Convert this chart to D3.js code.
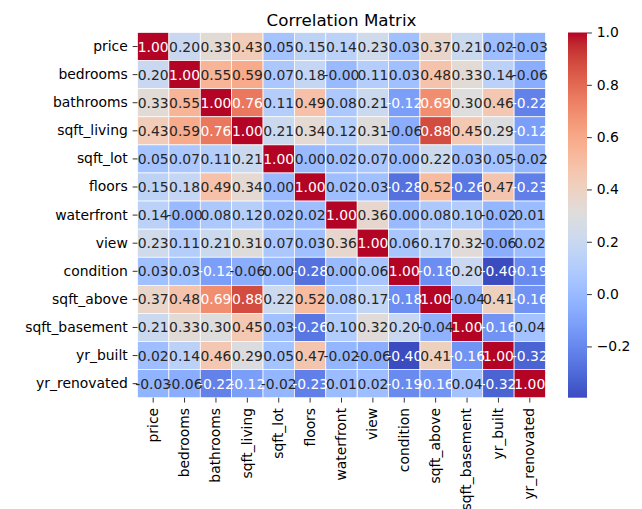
<!DOCTYPE html>
<html>
<head>
<meta charset="utf-8">
<script src="https://cdn.jsdelivr.net/npm/d3@7"></script>
<style>
  body { margin: 0; background: #fff; }
  text { font-family: "DejaVu Sans", sans-serif; }
</style>
</head>
<body>
<div id="chart"></div>
<script>
// variables of the matrix
var labels = ["price", "bedrooms", "bathrooms", "sqft_living", "sqft_lot", "floors",
  "waterfront", "view", "condition", "sqft_above", "sqft_basement", "yr_built", "yr_renovated"];

// correlation values, row by row
var price        = [1.00, 0.20, 0.33, 0.43, 0.05, 0.15, 0.14, 0.23, 0.03, 0.37, 0.21, 0.02, -0.03];
var bedrooms     = [0.20, 1.00, 0.55, 0.59, 0.07, 0.18, -0.00, 0.11, 0.03, 0.48, 0.33, 0.14, -0.06];
var bathrooms    = [0.33, 0.55, 1.00, 0.76, 0.11, 0.49, 0.08, 0.21, -0.12, 0.69, 0.30, 0.46, -0.22];
var sqftLiving   = [0.43, 0.59, 0.76, 1.00, 0.21, 0.34, 0.12, 0.31, -0.06, 0.88, 0.45, 0.29, -0.12];
var sqftLot      = [0.05, 0.07, 0.11, 0.21, 1.00, 0.00, 0.02, 0.07, 0.00, 0.22, 0.03, 0.05, -0.02];
var floors       = [0.15, 0.18, 0.49, 0.34, 0.00, 1.00, 0.02, 0.03, -0.28, 0.52, -0.26, 0.47, -0.23];
var waterfront   = [0.14, -0.00, 0.08, 0.12, 0.02, 0.02, 1.00, 0.36, 0.00, 0.08, 0.10, -0.02, 0.01];
var view         = [0.23, 0.11, 0.21, 0.31, 0.07, 0.03, 0.36, 1.00, 0.06, 0.17, 0.32, -0.06, 0.02];
var condition    = [0.03, 0.03, -0.12, -0.06, 0.00, -0.28, 0.00, 0.06, 1.00, -0.18, 0.20, -0.396, -0.19];
var sqftAbove    = [0.37, 0.48, 0.69, 0.88, 0.22, 0.52, 0.08, 0.17, -0.18, 1.00, -0.04, 0.41, -0.16];
var sqftBasement = [0.21, 0.33, 0.30, 0.45, 0.03, -0.26, 0.10, 0.32, 0.20, -0.04, 1.00, -0.16, 0.04];
var yrBuilt      = [0.02, 0.14, 0.46, 0.29, 0.05, 0.47, -0.02, -0.06, -0.396, 0.41, -0.16, 1.00, -0.32];
var yrRenovated  = [-0.03, -0.06, -0.22, -0.12, -0.02, -0.23, 0.01, 0.02, -0.19, -0.16, 0.04, -0.32, 1.00];

var colorbarTicks = [-0.2, 0.0, 0.2, 0.4, 0.6, 0.8, 1.0];

var matrix = [price, bedrooms, bathrooms, sqftLiving, sqftLot, floors, waterfront,
  view, condition, sqftAbove, sqftBasement, yrBuilt, yrRenovated];

// coolwarm ramp (Moreland)
var coolwarm = ["#3b4cc0","#445acc","#4d68d7","#5775e1","#6282ea","#6c8ef1","#779af7","#82a5fb",
  "#8db0fe","#98b9ff","#a3c2ff","#aec9fd","#b8d0f9","#c2d5f4","#ccd9ee","#d5dbe6","#dddddd",
  "#e5d8d1","#ecd3c5","#f1ccb8","#f5c4ac","#f7bb9f","#f7b193","#f7a786","#f49a7b","#f18d6f",
  "#ec7f63","#e57059","#de604d","#d55043","#cb3e38","#c0282f","#b40426"];

var width = 642, height = 509;
var gLeft = 137.5, gTop = 32.5, gw = 408, gh = 365.2;
var tick = 4.86;

var svg = d3.select("#chart").append("svg")
    .attr("width", width)
    .attr("height", height);

var cells = [];
matrix.forEach(function(row, i) {
  row.forEach(function(v, j) {
    cells.push({row: labels[i], col: labels[j], value: v});
  });
});

var vmin = d3.min(cells, function(d) { return d.value; }),
    vmax = d3.max(cells, function(d) { return d.value; });

var color = d3.scaleLinear()
    .domain(coolwarm.map(function(c, i) { return vmin + (vmax - vmin) * i / (coolwarm.length - 1); }))
    .range(coolwarm)
    .interpolate(d3.interpolateRgb)
    .clamp(true);

var x = d3.scaleBand().domain(labels).range([gLeft, gLeft + gw]);
var y = d3.scaleBand().domain(labels).range([gTop, gTop + gh]);

function luminance(c) {
  var rgb = d3.rgb(c);
  var lin = [rgb.r, rgb.g, rgb.b].map(function(v) {
    v = v / 255;
    return v <= 0.03928 ? v / 12.92 : Math.pow((v + 0.055) / 1.055, 2.4);
  });
  return 0.2126 * lin[0] + 0.7152 * lin[1] + 0.0722 * lin[2];
}

function fmt(v) {
  var neg = v < 0 || Object.is(v, -0);
  return (neg ? "-" : "") + Math.abs(v).toFixed(2);
}

svg.append("text")
    .attr("x", gLeft + gw / 2)
    .attr("y", 25.5)
    .attr("text-anchor", "middle")
    .style("font-size", "16.7px")
    .text("Correlation Matrix");

svg.selectAll(".cell")
    .data(cells)
  .enter().append("rect")
    .attr("class", "cell")
    .attr("x", function(d) { return x(d.col); })
    .attr("y", function(d) { return y(d.row); })
    .attr("width", x.bandwidth())
    .attr("height", y.bandwidth())
    .attr("fill", function(d) { return color(d.value); })
    .attr("stroke", "#fff")
    .attr("stroke-width", 0.7);

svg.selectAll(".annot")
    .data(cells)
  .enter().append("text")
    .attr("class", "annot")
    .attr("x", function(d) { return x(d.col) + x.bandwidth() / 2; })
    .attr("y", function(d) { return y(d.row) + y.bandwidth() / 2; })
    .attr("dy", "0.36em")
    .attr("text-anchor", "middle")
    .style("font-size", "13.9px")
    .attr("fill", function(d) { return luminance(color(d.value)) > 0.408 ? "#262626" : "#fff"; })
    .text(function(d) { return fmt(d.value); });

svg.append("g")
    .attr("transform", "translate(" + gLeft + ",0)")
    .style("font-size", "13.9px")
    .call(d3.axisLeft(y).tickSize(tick).tickPadding(tick))
    .call(function(g) { g.select(".domain").remove(); })
    .call(function(g) {
      g.selectAll("text").style("font-family", "DejaVu Sans").attr("fill", "#000");
      g.selectAll("line").attr("stroke", "#000").attr("stroke-width", 0.8);
    });

svg.append("g")
    .attr("transform", "translate(0," + (gTop + gh) + ")")
    .style("font-size", "13.9px")
    .call(d3.axisBottom(x).tickSize(tick).tickPadding(tick))
    .call(function(g) { g.select(".domain").remove(); })
    .call(function(g) {
      g.selectAll("line").attr("stroke", "#000").attr("stroke-width", 0.8);
      g.selectAll("text")
        .style("font-family", "DejaVu Sans")
        .attr("fill", "#000")
        .attr("transform", "rotate(-90)")
        .attr("text-anchor", "end")
        .attr("x", -(tick * 2 + 0.5))
        .attr("y", 0)
        .attr("dy", "0.32em");
    });

// colorbar
var cbx = 568, cbw = 19;
var cy = d3.scaleLinear().domain([vmin, vmax]).range([gTop + gh, gTop]);

var defs = svg.append("defs");
var grad = defs.append("linearGradient")
    .attr("id", "cbgrad")
    .attr("x1", 0).attr("y1", 1).attr("x2", 0).attr("y2", 0);
grad.selectAll("stop")
    .data(coolwarm)
  .enter().append("stop")
    .attr("offset", function(c, i) { return i / (coolwarm.length - 1); })
    .attr("stop-color", function(c) { return c; });

svg.append("rect")
    .attr("x", cbx)
    .attr("y", gTop)
    .attr("width", cbw)
    .attr("height", gh)
    .attr("fill", "url(#cbgrad)");

svg.append("g")
    .attr("transform", "translate(" + (cbx + cbw) + ",0)")
    .style("font-size", "13.9px")
    .call(d3.axisRight(cy).tickValues(colorbarTicks).tickFormat(d3.format(".1f")).tickSize(tick).tickPadding(tick))
    .call(function(g) { g.select(".domain").remove(); })
    .call(function(g) {
      g.selectAll("text").style("font-family", "DejaVu Sans").attr("fill", "#000");
      g.selectAll("line").attr("stroke", "#000").attr("stroke-width", 0.8);
    });
</script>
</body>
</html>
